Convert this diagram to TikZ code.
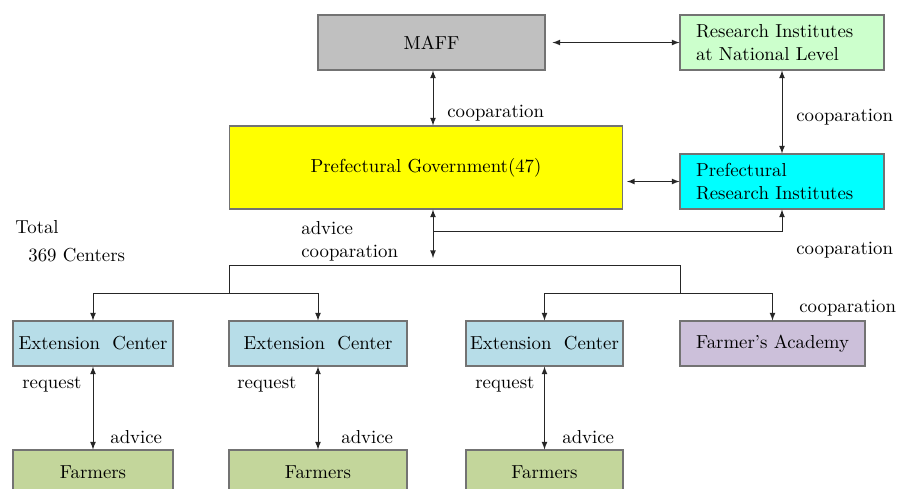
\documentclass[tikz,border=0pt]{standalone}
\usepackage{tikz}
\usetikzlibrary{calc, shapes, backgrounds, arrows}

\definecolor{maffgray}{HTML}{C0C0C0}
\definecolor{natgreen}{HTML}{CCFFCC}
\definecolor{prefyellow}{HTML}{FFFF00}
\definecolor{prefcyan}{HTML}{00FFFF}
\definecolor{extblue}{HTML}{B7DDE8}
\definecolor{acadlilac}{HTML}{CCC0DA}
\definecolor{farmgreen}{HTML}{C3D69B}

\begin{document}
\begin{tikzpicture}[x=0.02cm, y=-0.02cm, >=latex,
	every node/.style={font=\fontsize{10.7}{13.5}\selectfont},
	box/.style={draw=black!55, line width=0.6pt, minimum height=1.1cm, inner sep=0pt},
	leftbox/.style={box, align=left, text width=3.44cm, inner xsep=0.32cm},
	label/.style={anchor=west, inner sep=0pt},
	link/.style={line width=0.5pt, black!85}]
	\useasboundingbox (0,0) rectangle (907,488);
	\node[box, fill=maffgray, minimum width=4.54cm] (MAFF) at (431.5,42.5) {MAFF};
	\node[leftbox, fill=natgreen] (NATLAB) at (782,42.5) {Research Institutes\\at National Level};
	\node[box, fill=prefyellow, minimum width=7.88cm, minimum height=1.66cm] (PREFGOV) at (426,167.5) {Prefectural Government(47)};
	\node[leftbox, fill=prefcyan] (PREFLAB) at (782,181.5) {Prefectural\\Research Institutes};
	\node[box, fill=extblue, minimum width=3.2cm, minimum height=0.9cm] (EXT1) at (93,343.5) {Extension\ \ Center};
	\node[box, fill=extblue, minimum width=3.56cm, minimum height=0.9cm] (EXT2) at (318,343.5) {Extension\ \ Center};
	\node[box, fill=extblue, minimum width=3.14cm, minimum height=0.9cm] (EXT3) at (544.5,343.5) {Extension\ \ Center};
	\node[box, fill=acadlilac, minimum width=3.7cm, minimum height=0.9cm] (ACAD) at (772.5,343.5) {Farmer's Academy};
	\node[box, fill=farmgreen, minimum width=3.2cm, minimum height=0.9cm] (FARM1) at (93,472.5) {Farmers};
	\node[box, fill=farmgreen, minimum width=3.56cm, minimum height=0.9cm] (FARM2) at (318,472.5) {Farmers};
	\node[box, fill=farmgreen, minimum width=3.14cm, minimum height=0.9cm] (FARM3) at (544.5,472.5) {Farmers};

	\coordinate (TAP) at (433,258);
	\coordinate (JOIN) at (433,231);
	\coordinate (BUSL) at (229,293);
	\coordinate (BUSR) at (680,293);

	\begin{scope}[link]
		\draw[<->] ([xshift=4pt]MAFF.east) -- (NATLAB.west);
		\draw[<->] (TAP |- MAFF.south) -- (TAP |- PREFGOV.north);
		\draw[<->] (NATLAB.south) -- (PREFLAB.north);
		\draw[<->] ([xshift=2pt]PREFLAB.west -| PREFGOV.east) -- (PREFLAB.west);
		\draw[<->] (TAP |- PREFGOV.south) -- (TAP);
		\draw[->] (JOIN) -| (PREFLAB.south);
		\draw (BUSL) -- ++(0,-28) -| (BUSR);
		\draw[<->] (EXT1.north) |- (EXT2.north |- BUSL) -- (EXT2.north);
		\draw[<->] (EXT3.north) |- (ACAD.north |- BUSR) -- (ACAD.north);
		\draw[<->] (EXT1.south) -- (FARM1.north);
		\draw[<->] (EXT2.south) -- (FARM2.north);
		\draw[<->] (EXT3.south) -- (FARM3.north);
	\end{scope}

	\begin{scope}[every node/.append style={label}]
		\node (COOP1) at (447,113) {cooparation};
		\node (COOP2) at (796,117) {cooparation};
		\node (COOP3) at (796,250) {cooparation};
		\node (COOP4) at (799,308) {cooparation};
		\node (ADV0) at (301,228) {advice};
		\node (COOP0) at (301,253) {cooparation};
		\node (TOTAL) at (15,227) {Total};
		\node (COUNT) at (28,255) {369 Centers};
		\node (REQ1) at (22,385) {request};
		\node (REQ2) at (237,385) {request};
		\node (REQ3) at (475,385) {request};
		\node (ADV1) at (110,437) {advice};
		\node (ADV2) at (341,437) {advice};
		\node (ADV3) at (562,437) {advice};
	\end{scope}
\end{tikzpicture}
\end{document}
